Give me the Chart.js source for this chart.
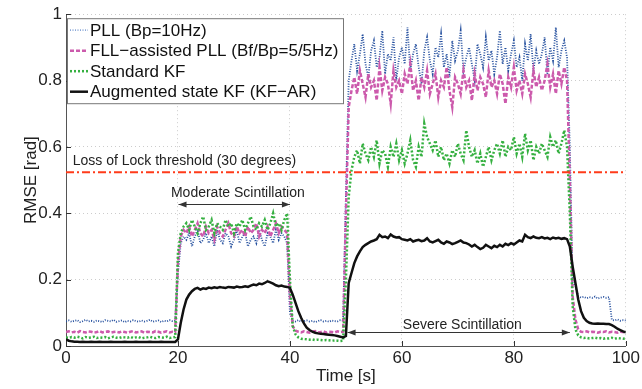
<!DOCTYPE html>
<html>
<head>
<meta charset="utf-8">
<script src="https://cdn.jsdelivr.net/npm/chart.js@4.4.1/dist/chart.umd.min.js"></script>
<style>
  html, body { margin: 0; padding: 0; background: #fff; }
  #wrap { width: 642px; height: 389px; }
</style>
</head>
<body>
<div id="wrap"><canvas id="chart" width="642" height="389"></canvas></div>
<script>
// curves are sampled every 0.5 s, from t = 0 to t = 100 s
const step = 0.5;

// PLL (Bp=10Hz)
const pllA = [
  0.074,0.077,0.073,0.076,0.078,0.072,0.075,0.079,0.074,0.076,
  0.073,0.077,0.075,0.072,0.078,0.076,0.074,0.079,0.073,0.075,
  0.077,0.072,0.076,0.074,0.078,0.075,0.073,0.077,0.074,0.076,
  0.079,0.073,0.075,0.077,0.072,0.076,0.074,0.078,0.075,0.076];
const pllB = [
  0.22,0.31,0.33,0.32,0.34,0.30,0.33,0.35,0.31,0.32,
  0.34,0.31,0.33,0.30,0.35,0.32,0.31,0.34,0.33,0.30,
  0.32,0.35,0.31,0.33,0.34,0.30,0.32,0.33,0.31,0.35,
  0.32,0.30,0.34,0.33,0.31,0.35,0.32,0.34,0.33,0.31];
const pllC = [
  0.10,0.076,0.074,0.078,0.073,0.075,0.077,0.074,0.076,0.072,
  0.075,0.078,0.074,0.076,0.073,0.077,0.075,0.074,0.078,0.076];
const pllD = [
  0.45,0.80,0.86,0.91,0.83,0.88,0.94,0.85,0.81,0.89,
  0.92,0.84,0.87,0.95,0.82,0.88,0.86,0.93,0.80,0.87,
  0.90,0.85,0.96,0.83,0.88,0.91,0.84,0.79,0.89,0.93,
  0.86,0.82,0.90,0.87,0.94,0.84,0.88,0.81,0.92,0.86,
  0.89,0.95,0.83,0.87,0.90,0.85,0.80,0.91,0.88,0.84,
  0.93,0.86,0.89,0.82,0.87,0.95,0.85,0.90,0.83,0.88,
  0.92,0.84,0.87,0.80,0.91,0.86,0.94,0.83,0.89,0.85,
  0.88,0.93,0.82,0.90,0.86,0.96,0.84,0.89,0.92,0.87];
const pllE = [
  0.60,0.19,0.18,0.15,0.146,0.148,0.144,0.147,0.145,0.149,
  0.143,0.146,0.148,0.145,0.147,0.079,0.077,0.080,0.076,0.078,0.077];

// FLL-assisted PLL (Bf/Bp=5/5Hz)
const fllA = [
  0.042,0.044,0.041,0.043,0.040,0.045,0.042,0.041,0.044,0.043,
  0.040,0.042,0.045,0.041,0.043,0.044,0.040,0.042,0.043,0.041,
  0.044,0.042,0.040,0.043,0.045,0.041,0.042,0.044,0.040,0.043,
  0.042,0.041,0.045,0.043,0.040,0.042,0.044,0.041,0.043,0.042];
const fllB = [
  0.25,0.33,0.35,0.34,0.36,0.33,0.35,0.37,0.34,0.33,
  0.36,0.34,0.35,0.32,0.36,0.34,0.33,0.35,0.37,0.34,
  0.33,0.36,0.34,0.35,0.33,0.36,0.34,0.35,0.37,0.33,
  0.35,0.34,0.36,0.33,0.35,0.37,0.34,0.36,0.35,0.34];
const fllC = [
  0.15,0.06,0.046,0.043,0.041,0.044,0.042,0.040,0.043,0.045,
  0.041,0.042,0.044,0.040,0.043,0.042,0.041,0.044,0.042,0.043];
const fllD = [
  0.40,0.72,0.77,0.81,0.76,0.83,0.79,0.75,0.82,0.78,
  0.80,0.74,0.84,0.77,0.81,0.79,0.73,0.83,0.78,0.80,
  0.76,0.82,0.79,0.85,0.77,0.80,0.74,0.81,0.78,0.83,
  0.76,0.79,0.82,0.75,0.80,0.78,0.84,0.77,0.72,0.81,
  0.79,0.76,0.83,0.78,0.80,0.74,0.82,0.77,0.81,0.79,
  0.75,0.83,0.78,0.80,0.76,0.82,0.79,0.73,0.81,0.78,
  0.84,0.77,0.80,0.76,0.82,0.79,0.75,0.83,0.78,0.81,
  0.77,0.80,0.85,0.78,0.82,0.76,0.83,0.79,0.84,0.80];
const fllE = [
  0.50,0.15,0.08,0.05,0.043,0.042,0.044,0.041,0.043,0.042,
  0.040,0.043,0.042,0.044,0.041,0.043,0.042,0.040,0.043,0.042,0.041];

// Standard KF
const kfA = [
  0.026,0.024,0.027,0.025,0.028,0.026,0.023,0.027,0.025,0.026,
  0.028,0.024,0.026,0.025,0.027,0.023,0.026,0.028,0.025,0.024,
  0.027,0.026,0.025,0.028,0.024,0.026,0.027,0.023,0.025,0.026,
  0.028,0.025,0.024,0.027,0.026,0.025,0.028,0.024,0.026,0.027];
const kfB = [
  0.28,0.34,0.36,0.37,0.35,0.38,0.36,0.34,0.37,0.39,
  0.35,0.36,0.38,0.34,0.37,0.36,0.35,0.38,0.36,0.37,
  0.34,0.37,0.36,0.38,0.35,0.37,0.39,0.36,0.35,0.37,
  0.36,0.38,0.35,0.37,0.40,0.36,0.37,0.35,0.38,0.40];
const kfC = [
  0.20,0.06,0.035,0.026,0.022,0.021,0.020,0.019,0.020,0.018,
  0.019,0.018,0.017,0.018,0.017,0.016,0.017,0.016,0.015,0.016];
const kfD = [
  0.20,0.45,0.53,0.57,0.59,0.55,0.61,0.58,0.56,0.60,
  0.57,0.62,0.55,0.59,0.58,0.54,0.60,0.57,0.61,0.56,
  0.59,0.55,0.58,0.62,0.56,0.54,0.60,0.57,0.67,0.63,
  0.61,0.59,0.62,0.57,0.60,0.56,0.58,0.55,0.59,0.57,
  0.61,0.58,0.56,0.65,0.60,0.57,0.59,0.55,0.58,0.54,
  0.57,0.60,0.56,0.59,0.61,0.58,0.62,0.57,0.60,0.59,
  0.63,0.58,0.61,0.57,0.64,0.59,0.62,0.56,0.60,0.58,
  0.61,0.59,0.57,0.63,0.60,0.62,0.58,0.61,0.65,0.60];
const kfE = [
  0.40,0.12,0.05,0.032,0.026,0.024,0.025,0.023,0.024,0.025,
  0.023,0.024,0.022,0.024,0.023,0.025,0.022,0.024,0.023,0.022,0.023];

// Augmented state KF (KF-AR)
const arA = [
  0.020,0.016,0.014,0.013,0.013,0.012,0.013,0.012,0.012,0.013,
  0.012,0.012,0.013,0.012,0.012,0.012,0.013,0.012,0.012,0.012,
  0.012,0.013,0.012,0.012,0.012,0.013,0.012,0.012,0.012,0.012,
  0.013,0.012,0.012,0.012,0.013,0.012,0.012,0.012,0.012,0.012];
const arB = [
  0.020,0.070,0.110,0.140,0.155,0.165,0.172,0.175,0.170,0.174,
  0.172,0.176,0.174,0.177,0.175,0.178,0.176,0.175,0.178,0.177,
  0.176,0.179,0.177,0.178,0.180,0.178,0.182,0.185,0.183,0.188,
  0.186,0.190,0.195,0.192,0.188,0.183,0.180,0.182,0.179,0.178];
const arC = [
  0.175,0.155,0.130,0.105,0.085,0.068,0.055,0.048,0.043,0.040,
  0.038,0.037,0.036,0.035,0.034,0.033,0.032,0.030,0.028,0.026];
const arD = [
  0.030,0.190,0.220,0.250,0.270,0.285,0.298,0.305,0.310,0.315,
  0.318,0.322,0.335,0.328,0.330,0.325,0.336,0.330,0.327,0.328,
  0.322,0.320,0.318,0.322,0.315,0.318,0.320,0.316,0.318,0.325,
  0.315,0.312,0.316,0.320,0.312,0.308,0.315,0.312,0.307,0.310,
  0.314,0.318,0.312,0.310,0.306,0.300,0.305,0.298,0.292,0.296,
  0.305,0.300,0.295,0.302,0.298,0.305,0.300,0.308,0.304,0.310,
  0.306,0.312,0.318,0.315,0.335,0.328,0.325,0.330,0.326,0.325,
  0.328,0.324,0.326,0.322,0.327,0.324,0.326,0.323,0.325,0.322];
const arE = [
  0.300,0.240,0.190,0.140,0.105,0.085,0.075,0.070,0.068,0.067,
  0.068,0.067,0.067,0.066,0.066,0.063,0.058,0.052,0.048,0.044,0.041];

const pll = [...pllA, ...pllB, ...pllC, ...pllD, ...pllE];
const fll = [...fllA, ...fllB, ...fllC, ...fllD, ...fllE];
const kf = [...kfA, ...kfB, ...kfC, ...kfD, ...kfE];
const kfar = [...arA, ...arB, ...arC, ...arD, ...arE];

const lossOfLock = 0.5236; // 30 degrees in rad
const xTicks = [0, 20, 40, 60, 80, 100];
const yTicks = [0, 0.2, 0.4, 0.6, 0.8, 1];

const FONT = "'Liberation Sans', Arial, Helvetica, sans-serif";

function toXY(vals) {
  return vals.map((v, i) => ({ x: i * step, y: v }));
}

// arrows, annotation texts, inward ticks and the boxed legend
const extras = {
  id: 'extras',
  afterDraw(chart) {
    const ctx = chart.ctx;
    const xs = chart.scales.x, ys = chart.scales.y;
    const area = chart.chartArea;
    ctx.save();

    // inward ticks
    ctx.strokeStyle = '#333';
    ctx.lineWidth = 1;
    ctx.beginPath();
    xTicks.forEach(t => {
      const px = Math.round(xs.getPixelForValue(t)) + 0.5;
      ctx.moveTo(px, area.bottom);
      ctx.lineTo(px, area.bottom - 5);
    });
    yTicks.forEach(t => {
      const py = Math.round(ys.getPixelForValue(t)) + 0.5;
      ctx.moveTo(area.left, py);
      ctx.lineTo(area.left + 5, py);
    });
    ctx.stroke();

    // double arrows
    function arrow(t0, t1, v) {
      const x0 = xs.getPixelForValue(t0), x1 = xs.getPixelForValue(t1);
      const y = Math.round(ys.getPixelForValue(v)) + 0.5;
      ctx.strokeStyle = '#333';
      ctx.fillStyle = '#333';
      ctx.lineWidth = 1;
      ctx.beginPath();
      ctx.moveTo(x0, y); ctx.lineTo(x1, y);
      ctx.stroke();
      ctx.beginPath();
      ctx.moveTo(x0, y); ctx.lineTo(x0 + 8, y - 3); ctx.lineTo(x0 + 8, y + 3); ctx.closePath();
      ctx.moveTo(x1, y); ctx.lineTo(x1 - 8, y - 3); ctx.lineTo(x1 - 8, y + 3); ctx.closePath();
      ctx.fill();
    }
    arrow(20.1, 40, 0.427);
    arrow(50.3, 90, 0.042);

    ctx.fillStyle = '#222';
    ctx.font = '14px ' + FONT;
    ctx.textBaseline = 'middle';
    ctx.textAlign = 'center';
    ctx.fillText('Moderate Scintillation', xs.getPixelForValue(30.7), ys.getPixelForValue(0.462));
    ctx.fillText('Severe Scintillation', xs.getPixelForValue(70.8), ys.getPixelForValue(0.063));
    ctx.textAlign = 'left';
    ctx.fillText('Loss of Lock threshold (30 degrees)', xs.getPixelForValue(1.2), ys.getPixelForValue(0.556));

    // legend box
    const lx = area.left + 1, ly = area.top + 4, lw = 276, lh = 85;
    ctx.fillStyle = '#fff';
    ctx.fillRect(lx, ly, lw, lh);
    ctx.strokeStyle = '#777';
    ctx.lineWidth = 1;
    ctx.strokeRect(lx + 0.5, ly + 0.5, lw, lh);
    ctx.font = '17px ' + FONT;
    ctx.textBaseline = 'middle';
    chart.data.datasets.filter(d => d.inLegend).forEach((d, i) => {
      const y = ly + 12 + i * 20.5;
      ctx.strokeStyle = d.legendColor || d.borderColor;
      ctx.lineWidth = d.borderWidth;
      ctx.setLineDash(d.borderDash || []);
      ctx.beginPath();
      ctx.moveTo(lx + 3, y);
      ctx.lineTo(lx + 21, y);
      ctx.stroke();
      ctx.setLineDash([]);
      ctx.fillStyle = '#111';
      ctx.fillText(d.label, lx + 23, y + 1);
    });
    ctx.restore();
  }
};

new Chart(document.getElementById('chart'), {
  type: 'line',
  data: {
    datasets: [
      {
        label: 'PLL (Bp=10Hz)',
        inLegend: true,
        data: toXY(pll),
        borderColor: '#244f9e',
        legendColor: '#8aa8d8',
        borderWidth: 1.8,
        borderDash: [1, 1.5],
        order: 4,
      },
      {
        label: 'FLL\u2212assisted PLL (Bf/Bp=5/5Hz)',
        inLegend: true,
        data: toXY(fll),
        borderColor: '#cc5aac',
        borderWidth: 2.5,
        borderDash: [4, 2],
        order: 3,
      },
      {
        label: 'Standard KF',
        inLegend: true,
        data: toXY(kf),
        borderColor: '#35b040',
        borderWidth: 2.5,
        borderDash: [2, 2],
        order: 2,
      },
      {
        label: 'Augmented state KF (KF\u2212AR)',
        inLegend: true,
        data: toXY(kfar),
        borderColor: '#111',
        borderWidth: 2.5,
        order: 1,
      },
      {
        label: 'threshold',
        data: [{ x: 0, y: lossOfLock }, { x: 100, y: lossOfLock }],
        borderColor: '#ff3b1a',
        borderWidth: 2,
        borderDash: [8, 3, 2, 3],
        order: 0,
      },
    ],
  },
  options: {
    responsive: false,
    animation: false,
    layout: { padding: { top: 11, right: 15, left: 0, bottom: 0 } },
    elements: {
      point: { radius: 0 },
      line: { tension: 0, fill: false },
    },
    plugins: {
      legend: { display: false },
      tooltip: { enabled: false },
    },
    scales: {
      x: {
        type: 'linear',
        min: 0,
        max: 100,
        afterFit: s => { s.height = 43; },
        afterBuildTicks: s => { s.ticks = xTicks.map(v => ({ value: v })); },
        grid: { color: '#cccccc', drawTicks: false },
        border: { display: true, color: '#555', dash: [1, 3] },
        ticks: { color: '#222', font: { family: FONT, size: 17 }, padding: 2, maxRotation: 0 },
        title: { display: true, text: 'Time [s]', color: '#222', font: { family: FONT, size: 17 }, padding: { top: 0, bottom: 2 } },
      },
      y: {
        min: 0,
        max: 1,
        afterFit: s => { s.width = 66; },
        afterBuildTicks: s => { s.ticks = yTicks.map(v => ({ value: v })); },
        grid: { color: '#cccccc', drawTicks: false },
        border: { display: true, color: '#555', dash: [1, 3] },
        ticks: { color: '#222', font: { family: FONT, size: 17 }, padding: 4, callback: v => String(v) },
        title: { display: true, text: 'RMSE [rad]', color: '#222', font: { family: FONT, size: 17 }, padding: { top: 21, bottom: 0 } },
      },
    },
  },
  plugins: [extras],
});
</script>
</body>
</html>
